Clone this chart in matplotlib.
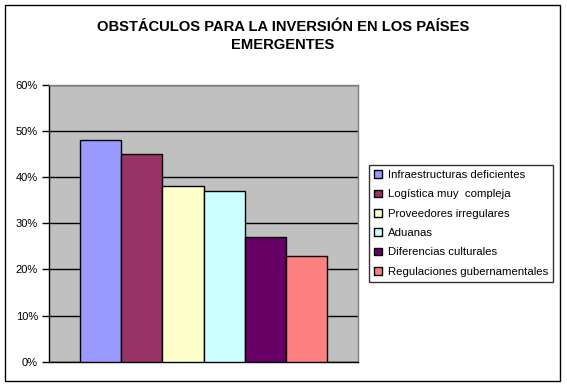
import matplotlib
matplotlib.use("Agg")
import matplotlib.pyplot as plt
from matplotlib.patches import Rectangle
from matplotlib.ticker import FuncFormatter, MultipleLocator

plt.rcParams['font.family'] = ['Liberation Sans', 'DejaVu Sans']

title = "OBSTÁCULOS PARA LA INVERSIÓN EN LOS PAÍSES\nEMERGENTES"
categories = ["Infraestructuras deficientes", "Logística muy  compleja",
              "Proveedores irregulares", "Aduanas", "Diferencias culturales",
              "Regulaciones gubernamentales"]
values = [0.48, 0.45, 0.38, 0.37, 0.27, 0.23]
colors = ["#9999FF", "#993366", "#FFFFCC", "#CCFFFF", "#660066", "#FF8080"]

W, H = 567, 387
fig = plt.figure(figsize=(W / 100, H / 100), dpi=100)
fig.patch.set_facecolor("white")

# outer chart border
fig.patches.append(Rectangle((5 / W, 6 / H), 555 / W, 376 / H, transform=fig.transFigure,
                             fill=False, edgecolor="black", linewidth=1.0))

ax = fig.add_axes([49 / W, (H - 361.7) / H, 309 / W, 277 / H])
ax.set_facecolor("#C0C0C0")

handles = []
for i, (v, c, lab) in enumerate(zip(values, colors, categories)):
    b = ax.bar(i, v, width=1.0, color=c, edgecolor="black", linewidth=1.0, label=lab, zorder=3)
    handles.append(b)

ax.set_xlim(-1.25, 6.25)
ax.set_ylim(0, 0.6)
ax.yaxis.set_major_locator(MultipleLocator(0.1))
ax.yaxis.set_major_formatter(FuncFormatter(lambda y, p: f"{int(round(y * 100))}%"))
ax.set_xticks([])
ax.grid(axis="y", color="black", linewidth=1.0, zorder=1)
ax.set_axisbelow(True)
ax.tick_params(axis="y", direction="out", length=5, width=1, labelsize=8, pad=3, colors="black")

for s in ["left", "bottom"]:
    ax.spines[s].set_color("black")
    ax.spines[s].set_linewidth(1.0)
for s in ["top", "right"]:
    ax.spines[s].set_color("#808080")
    ax.spines[s].set_linewidth(1.0)

fig.text(283 / W, 1 - 36 / H, title, ha="center", va="center", fontsize=10.6,
         fontweight="bold", linespacing=1.3)

leg = fig.legend(handles=handles, loc="upper left",
                 bbox_to_anchor=(369 / W, 1 - 165 / H), fontsize=8.2, frameon=True,
                 fancybox=False, edgecolor="black", handlelength=0.65, handleheight=0.65,
                 handletextpad=0.55, borderpad=0.45, labelspacing=0.82, borderaxespad=0)
leg.get_frame().set_linewidth(1.0)

fig.savefig("out.png", dpi=100)
